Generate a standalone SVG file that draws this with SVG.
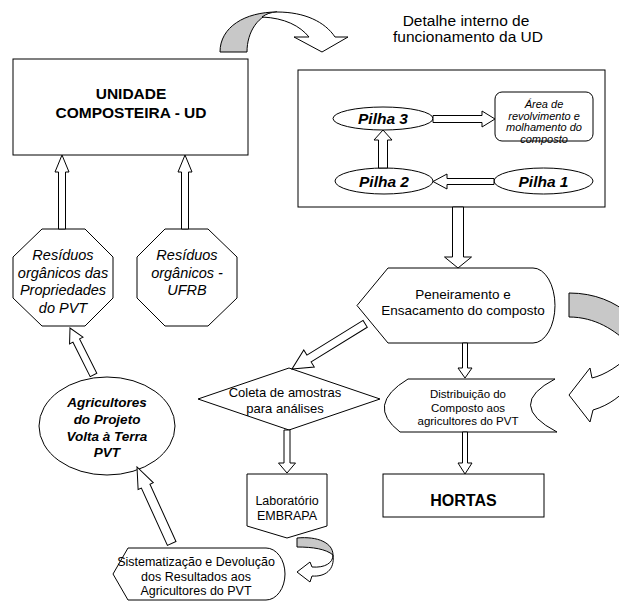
<svg xmlns="http://www.w3.org/2000/svg" width="619" height="602" viewBox="0 0 619 602">
<style>
.s{fill:#fff;stroke:#000;stroke-width:1}
.g{fill:#c8c8c8;stroke:#000;stroke-width:1}
.a{fill:#fff;stroke:#000;stroke-width:1;stroke-linejoin:miter}
text{font-family:"Liberation Sans",Arial,sans-serif;fill:#000;text-anchor:middle}
.b{font-weight:bold}
.i{font-style:italic}
</style>
<rect width="619" height="602" fill="#fff"/>

<g id="curved-arrows">
<path class="g" d="M220,52 C220,27 245,12 277,12 C258,14 247,32 247,52 Z"/>
<path class="s" d="M277,12 C305,12 325,22 335,37 L348,37 L322,52 L294,37 L309,37 C300,26 285,18 262,17 C266,14 271,12 277,12 Z"/>
<path class="g" d="M569,293 C595,293 615,302 630,315 L630,345 C615,330 595,317 569,317 Z"/>
<path class="s" d="M630,355 C620,365 605,375 592,378 L590,368 L569,395 L590,422 L593,410 C610,405 622,395 630,385 Z"/>
<path class="g" d="M297,538 C318,536 333,543 333,555 C326,549 313,547 297,547 Z"/>
<path class="s" d="M333,555 C333,563 325,568 312,567 L310,562 L297,572 L310,582 L312,576 C325,577 335,570 333,555 Z"/>
</g>

<g id="title">
<text x="466" y="26" font-size="15.5">Detalhe interno de</text>
<text x="468" y="42" font-size="15.5">funcionamento da UD</text>
</g>

<g id="ud">
<rect class="s" x="13" y="59" width="235" height="96"/>
<text class="b" x="131" y="98.5" font-size="15.5">UNIDADE</text>
<text class="b" x="131" y="117.5" font-size="15.5">COMPOSTEIRA - UD</text>
</g>

<g id="detalhe">
<rect class="s" x="298" y="70" width="307" height="137"/>
</g>

<g id="pilha3">
<ellipse class="s" cx="383" cy="118.5" rx="50" ry="11.5"/>
<text class="b i" x="383" y="124" font-size="15.5">Pilha 3</text>
</g>
<g id="pilha2">
<ellipse class="s" cx="384" cy="181" rx="49" ry="13"/>
<text class="b i" x="384" y="186.5" font-size="15.5">Pilha 2</text>
</g>
<g id="pilha1">
<ellipse class="s" cx="543.5" cy="181" rx="49.5" ry="13"/>
<text class="b i" x="543.5" y="186.5" font-size="15.5">Pilha 1</text>
</g>
<g id="area">
<rect class="s" x="495" y="92" width="98" height="49" rx="7"/>
<text class="i" x="544" y="108" font-size="11">Área de</text>
<text class="i" x="544" y="119.5" font-size="11">revolvimento e</text>
<text class="i" x="544" y="131" font-size="11">molhamento do</text>
<text class="i" x="544" y="143" font-size="11">composto</text>
</g>

<g id="residuos-pvt">
<polygon class="s" points="42,229 85,229 113,257 113,298 85,326 42,326 13,298 13,257"/>
<text class="i" x="63" y="260" font-size="14.5">Resíduos</text>
<text class="i" x="63" y="277.5" font-size="14.5">orgânicos das</text>
<text class="i" x="63" y="295" font-size="14.5">Propriedades</text>
<text class="i" x="63" y="312.5" font-size="14.5">do PVT</text>
</g>
<g id="residuos-ufrb">
<polygon class="s" points="165,229 208,229 237,257 237,298 208,326 165,326 137,298 137,257"/>
<text class="i" x="187" y="260" font-size="14.5">Resíduos</text>
<text class="i" x="187" y="277.5" font-size="14.5">orgânicos -</text>
<text class="i" x="187" y="295" font-size="14.5">UFRB</text>
</g>

<g id="agricultores">
<ellipse class="s" cx="107" cy="426" rx="68" ry="49"/>
<text class="b i" x="107" y="407" font-size="13.5">Agricultores</text>
<text class="b i" x="107" y="424" font-size="13.5">do Projeto</text>
<text class="b i" x="107" y="441" font-size="13.5">Volta à Terra</text>
<text class="b i" x="107" y="457" font-size="13.5">PVT</text>
</g>

<g id="peneiramento">
<path class="s" d="M388,268 L533,268 A22,37.5 0 0 1 533,343 L388,343 L357,305.5 Z"/>
<text x="463" y="299" font-size="13.5">Peneiramento e</text>
<text x="463" y="315" font-size="13.5">Ensacamento do composto</text>
</g>

<g id="coleta">
<polygon class="s" points="198,399 289,368 380,399 289,430"/>
<text x="285" y="397" font-size="13">Coleta de amostras</text>
<text x="285" y="413" font-size="13">para análises</text>
</g>

<g id="distribuicao">
<path class="s" d="M408,379 L555,379 Q505,405 557,432 L400,432 Q365,405 408,379 Z"/>
<text x="468" y="398" font-size="11.5">Distribuição do</text>
<text x="468" y="412" font-size="11.5">Composto aos</text>
<text x="468" y="425" font-size="11.5">agricultores do PVT</text>
</g>

<g id="laboratorio">
<path class="s" d="M247,474 L327,474 L327,526 L287,538 L247,526 Z"/>
<text x="287" y="505" font-size="12.5">Laboratório</text>
<text x="287" y="520" font-size="12.5">EMBRAPA</text>
</g>

<g id="hortas">
<rect class="s" x="383" y="474" width="161" height="43"/>
<text class="b" x="463.5" y="506" font-size="16">HORTAS</text>
</g>

<g id="sistematizacao">
<path class="s" d="M128,548 L266,548 A19,26 0 0 1 266,600 L128,600 L113,574 Z"/>
<text x="196" y="566" font-size="12.5">Sistematização e Devolução</text>
<text x="196" y="581" font-size="12.5">dos Resultados aos</text>
<text x="196" y="595" font-size="12.5">Agricultores do PVT</text>
</g>

<g id="connectors">
<polygon class="a" points="62,155 69,172 65.5,172 65.5,229 58.5,229 58.5,172 55,172"/>
<polygon class="a" points="185,155 192,172 188.5,172 188.5,229 181.5,229 181.5,172 178,172"/>
<polygon class="a" transform="translate(70,328) rotate(-116.6)" points="0,0 -14,-7.5 -14,-3.7 -52.5,-3.7 -52.5,3.7 -14,3.7 -14,7.5"/>
<polygon class="a" transform="translate(137,467) rotate(-114.4)" points="0,0 -21,-8.3 -21,-4.7 -84,-4.7 -84,4.7 -21,4.7 -21,8.3"/>
<polygon class="a" points="458,268 444.5,257 452.5,257 452.5,207 463.5,207 463.5,257 471.5,257"/>
<polygon class="a" points="495,119 482,111 482,115.5 433,115.5 433,122.5 482,122.5 482,127"/>
<polygon class="a" points="383,130 392,140 387.5,140 387.5,168 378.5,168 378.5,140 374,140"/>
<polygon class="a" points="433,181.5 447,174 447,178.5 494,178.5 494,184.5 447,184.5 447,189"/>
<polygon class="a" points="465,378 472,368 467.5,368 467.5,343 462.5,343 462.5,368 458,368"/>
<polygon class="a" points="465,474 472,463 467.5,463 467.5,432 462.5,432 462.5,463 458,463"/>
<polygon class="a" transform="translate(292,369) rotate(148.3)" points="0,0 -20,-10 -20,-4 -86,-4 -86,4 -20,4 -20,10"/>
<polygon class="a" points="287,473 295.5,463 290,463 290,430 284,430 284,463 278.5,463"/>
</g>
</svg>
